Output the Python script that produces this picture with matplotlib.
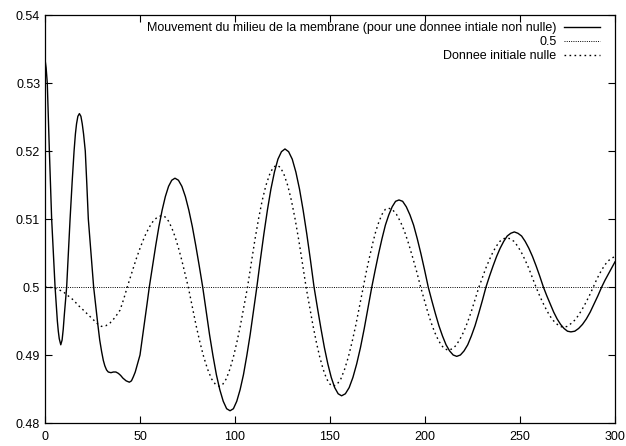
import matplotlib
matplotlib.use("Agg")
import matplotlib.pyplot as plt
from matplotlib.ticker import FormatStrFormatter, FixedLocator

# Mouvement du milieu de la membrane (donnee initiale non nulle)
x_membrane = [0, 0.6, 1.2, 2.3, 3.5, 5.3, 6.5, 7.0, 7.5, 8.3, 9.0, 9.6, 10.2, 11.4, 12.3, 13.2,
              14.3, 15.3, 16.0, 16.6, 17.3, 18.1, 18.9, 19.6, 20.3, 21.2, 22.0, 22.8, 24.2, 25.6,
              26.8, 27.8, 28.8, 29.8, 30.7, 31.5, 32.4, 33.3, 34.7, 36, 37.3, 38.6, 39.8, 41,
              42.7, 44.4, 45.5, 46.5, 47.5, 48.5, 50, 51.2, 52.5, 53.7, 54.9,
              56.59, 58.28, 59.96, 61.65, 63.34, 65.03, 66.71, 68.4,
              70.23, 72.05, 73.88, 75.7, 77.53, 79.35, 81.18, 83,
              84.8, 86.6, 88.4, 90.2, 92, 93.8, 95.6, 97.4,
              99.16, 100.93, 102.69, 104.45, 106.21, 107.98, 109.74, 111.5,
              113.35, 115.2, 117.05, 118.9, 120.75, 122.6, 124.45, 126.3,
              128.21, 130.13, 132.04, 133.95, 135.86, 137.78, 139.69, 141.6,
              143.41, 145.23, 147.04, 148.85, 150.66, 152.48, 154.29, 156.1,
              158.09, 160.08, 162.06, 164.05, 166.04, 168.03, 170.01, 172,
              173.79, 175.58, 177.36, 179.15, 180.94, 182.73, 184.51, 186.3,
              188.23, 190.15, 192.08, 194, 195.93, 197.85, 199.78, 201.7,
              203.58, 205.45, 207.33, 209.2, 211.08, 212.95, 214.83, 216.7,
              218.63, 220.55, 222.48, 224.4, 226.33, 228.25, 230.18, 232.1,
              233.96, 235.83, 237.69, 239.55, 241.41, 243.28, 245.14, 247,
              248.91, 250.83, 252.74, 254.65, 256.56, 258.48, 260.39, 262.3,
              264.11, 265.93, 267.74, 269.55, 271.36, 273.18, 274.99, 276.8,
              278.83, 280.85, 282.88, 284.9, 286.93, 288.95, 290.98, 293,
              294.75, 296.5, 298.25, 300]
y_membrane = [0.5335, 0.5322, 0.530, 0.520, 0.510, 0.500, 0.495, 0.4935, 0.4924, 0.4915, 0.4922,
              0.4938, 0.4960, 0.500, 0.5050, 0.510, 0.5155, 0.520, 0.5225, 0.5240, 0.5251,
              0.5255, 0.5251, 0.5240, 0.5225, 0.520, 0.5152, 0.510, 0.505, 0.500, 0.497,
              0.4945, 0.4922, 0.4905, 0.4892, 0.4884, 0.4878, 0.4875, 0.4874, 0.4875, 0.4875,
              0.4873, 0.4870, 0.4866, 0.4862, 0.4860, 0.4862, 0.4868, 0.4875, 0.4885, 0.490,
              0.4924, 0.4950, 0.4975, 0.500,
              0.5031, 0.5061, 0.5089, 0.5113, 0.5133, 0.5148, 0.5157, 0.5160,
              0.5157, 0.5148, 0.5133, 0.5113, 0.5089, 0.5061, 0.5031, 0.500,
              0.4965, 0.4930, 0.4899, 0.4871, 0.4849, 0.4832, 0.4821, 0.4818,
              0.4821, 0.4832, 0.4849, 0.4871, 0.4899, 0.4930, 0.4965, 0.500,
              0.5040, 0.5078, 0.5113, 0.5144, 0.5169, 0.5188, 0.5199, 0.5203,
              0.5199, 0.5188, 0.5169, 0.5144, 0.5113, 0.5078, 0.5040, 0.500,
              0.4969, 0.4939, 0.4911, 0.4887, 0.4867, 0.4852, 0.4843, 0.4840,
              0.4843, 0.4852, 0.4867, 0.4887, 0.4911, 0.4939, 0.4969, 0.500,
              0.5025, 0.5049, 0.5071, 0.5091, 0.5106, 0.5118, 0.5126, 0.5128,
              0.5126, 0.5118, 0.5106, 0.5091, 0.5071, 0.5049, 0.5025, 0.500,
              0.4980, 0.4961, 0.4943, 0.4928, 0.4915, 0.4906, 0.4900, 0.4898,
              0.4900, 0.4906, 0.4915, 0.4928, 0.4943, 0.4961, 0.4980, 0.500,
              0.5016, 0.5031, 0.5045, 0.5057, 0.5067, 0.5075, 0.5079, 0.5081,
              0.5079, 0.5075, 0.5067, 0.5057, 0.5045, 0.5031, 0.5016, 0.500,
              0.4987, 0.4975, 0.4963, 0.4953, 0.4945, 0.4939, 0.4935, 0.4934,
              0.4935, 0.4939, 0.4945, 0.4953, 0.4963, 0.4975, 0.4987, 0.500,
              0.5010, 0.5019, 0.5028, 0.5037]

# Donnee initiale nulle
x_nulle = [0, 2, 4, 6.5, 9.6, 12.2, 14.9, 17.5, 20.2, 22.8, 25.4, 27.6, 29.8, 32, 34.2, 36.8,
           39.5, 41.4, 43.3,
           45.58, 47.85, 50.13, 52.4, 54.68, 56.95, 59.23, 61.5,
           63.24, 64.98, 66.71, 68.45, 70.19, 71.93, 73.66, 75.4,
           77.44, 79.48, 81.51, 83.55, 85.59, 87.63, 89.66, 91.7,
           93.56, 95.43, 97.29, 99.15, 101.01, 102.88, 104.74, 106.6,
           108.53, 110.45, 112.38, 114.3, 116.23, 118.15, 120.08, 122,
           123.93, 125.85, 127.78, 129.7, 131.63, 133.55, 135.48, 137.4,
           139.2, 141, 142.8, 144.6, 146.4, 148.2, 150, 151.8,
           153.76, 155.73, 157.69, 159.65, 161.61, 163.58, 165.54, 167.5,
           169.15, 170.8, 172.45, 174.1, 175.75, 177.4, 179.05, 180.7,
           182.83, 184.95, 187.08, 189.2, 191.33, 193.45, 195.58, 197.7,
           199.53, 201.35, 203.18, 205, 206.83, 208.65, 210.48, 212.3,
           214.31, 216.33, 218.34, 220.35, 222.36, 224.38, 226.39, 228.4,
           230.23, 232.05, 233.88, 235.7, 237.53, 239.35, 241.18, 243,
           244.93, 246.85, 248.78, 250.7, 252.63, 254.55, 256.48, 258.4,
           260.2, 262, 263.8, 265.6, 267.4, 269.2, 271, 272.8,
           274.78, 276.75, 278.73, 280.7, 282.68, 284.65, 286.63, 288.6,
           290.5, 292.4, 294.3, 296.2, 298.1, 300]
y_nulle = [0.5, 0.49995, 0.4999, 0.4997, 0.4993, 0.4987, 0.4981, 0.4973, 0.4966, 0.4959, 0.4952,
           0.4946, 0.4942, 0.4943, 0.4947, 0.4955, 0.4966, 0.4982, 0.500,
           0.5020, 0.5040, 0.5058, 0.5074, 0.5087, 0.5097, 0.5103, 0.5105,
           0.5103, 0.5097, 0.5087, 0.5074, 0.5058, 0.5040, 0.5020, 0.500,
           0.4972, 0.4944, 0.4919, 0.4897, 0.4879, 0.4865, 0.4857, 0.4854,
           0.4857, 0.4865, 0.4879, 0.4897, 0.4919, 0.4944, 0.4972, 0.500,
           0.5035, 0.5069, 0.5100, 0.5127, 0.5149, 0.5165, 0.5176, 0.5179,
           0.5176, 0.5165, 0.5149, 0.5127, 0.5100, 0.5069, 0.5035, 0.500,
           0.4972, 0.4944, 0.4919, 0.4897, 0.4879, 0.4865, 0.4857, 0.4854,
           0.4857, 0.4865, 0.4879, 0.4897, 0.4919, 0.4944, 0.4972, 0.500,
           0.5023, 0.5044, 0.5064, 0.5082, 0.5096, 0.5107, 0.5114, 0.5116,
           0.5114, 0.5107, 0.5096, 0.5082, 0.5064, 0.5044, 0.5023, 0.500,
           0.4982, 0.4964, 0.4948, 0.4934, 0.4923, 0.4914, 0.4909, 0.4907,
           0.4909, 0.4914, 0.4923, 0.4934, 0.4948, 0.4964, 0.4982, 0.500,
           0.5014, 0.5028, 0.5040, 0.5051, 0.5060, 0.5067, 0.5071, 0.5072,
           0.5071, 0.5067, 0.5060, 0.5051, 0.5040, 0.5028, 0.5014, 0.500,
           0.4988, 0.4977, 0.4967, 0.4958, 0.4951, 0.4946, 0.4942, 0.4941,
           0.4942, 0.4946, 0.4951, 0.4958, 0.4967, 0.4977, 0.4988, 0.500,
           0.5012, 0.5022, 0.5031, 0.5038, 0.5042, 0.5045]

# droite constante 0.5
x_const = [0, 300]
y_const = [0.5, 0.5]

x_ticks = [0, 50, 100, 150, 200, 250, 300]
y_ticks = [0.48, 0.49, 0.5, 0.51, 0.52, 0.53, 0.54]

plt.rcParams['font.family'] = ['Liberation Sans', 'DejaVu Sans']

fig = plt.figure(figsize=(6.26, 4.46), dpi=100)
ax = fig.add_axes([45 / 626, 1 - 423 / 446, 570 / 626, 408 / 446])

ax.plot(x_membrane, y_membrane, color='black', lw=1.0,
        label='Mouvement du milieu de la membrane (pour une donnee intiale non nulle)')
ax.plot(x_const, y_const, color='black', lw=0.7, linestyle=(0, (1, 1.3)), label='0.5')
ax.plot(x_nulle, y_nulle, color='black', lw=1.0, linestyle=(0, (1.2, 2.4)),
        label='Donnee initiale nulle')

ax.set_xlim(0, 300)
ax.set_ylim(0.48, 0.54)
ax.xaxis.set_major_locator(FixedLocator(x_ticks))
ax.yaxis.set_major_locator(FixedLocator(y_ticks))
ax.yaxis.set_major_formatter(FormatStrFormatter('%g'))
ax.tick_params(direction='in', length=5, width=0.8, top=True, right=True, labelsize=9)
ax.tick_params(axis='x', pad=6)
for s in ax.spines.values():
    s.set_linewidth(0.9)

ax.legend(loc='upper right', bbox_to_anchor=(0.987, 1.0), frameon=False, markerfirst=False,
          fontsize=9, handlelength=2.9, handletextpad=0.6, labelspacing=0.15,
          borderaxespad=0.3, borderpad=0.3)

fig.savefig('out.png', dpi=100)
